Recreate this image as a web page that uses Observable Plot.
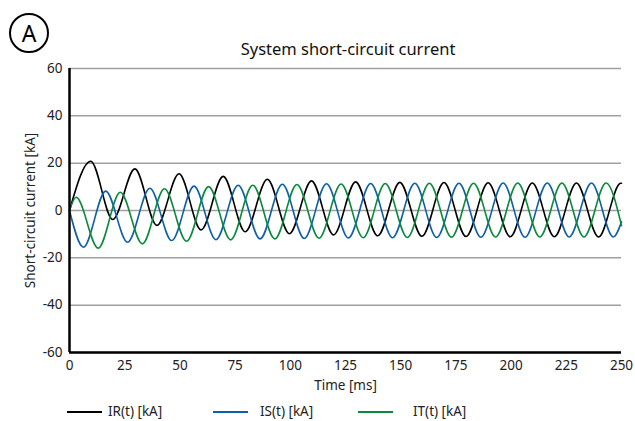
<!DOCTYPE html>
<html>
<head>
<meta charset="utf-8">
<script src="https://cdn.jsdelivr.net/npm/d3@7"></script>
<script src="https://cdn.jsdelivr.net/npm/@observablehq/plot@0.6"></script>
<style>
  body { margin: 0; background: #fff; font-family: "Noto Sans", sans-serif; }
  #wrap { position: relative; width: 635px; height: 421px; }
  #title { position: absolute; left: 0; width: 696px; top: 37px; text-align: center; font-size: 16.5px; color: #111; }
  #badge { position: absolute; left: 9px; top: 13px; width: 36px; height: 36px; border: 2px solid #000; border-radius: 50%;
           font-size: 23px; line-height: 36px; text-align: center; color: #000; }
  #chart { position: absolute; left: 0; top: 0; }
  #legend { position: absolute; left: 0; top: 401px; font-size: 13.5px; color: #222; }
</style>
</head>
<body>
<div id="wrap">
  <div id="chart"></div>
  <div id="badge">A</div>
  <div id="title">System short-circuit current</div>
  <div id="legend"></div>
</div>
<script>
// Series names and colours
const seriesNames = ["IR(t) [kA]", "IS(t) [kA]", "IT(t) [kA]"];
const seriesColors = ["#000000", "#0f5fa8", "#0a8a3c"];

// Axis ticks
const xTicks = [0, 25, 50, 75, 100, 125, 150, 175, 200, 225, 250];
const yTicks = [-60, -40, -20, 0, 20, 40, 60];

const tR = [0, 9.6, 19.6, 29.6, 39.6, 49.6, 59.6, 69.6, 79.6, 89.6, 99.6, 109.6, 119.6, 129.6, 139.6, 149.6,
            159.6, 169.6, 179.6, 189.6, 199.6, 209.6, 219.6, 229.6, 239.6, 249.6, 250];
const vR = [0, 20.8, -3.8, 17.6, -6.3, 15.5, -8.2, 14.4, -9.0, 13.2, -9.8, 12.5, -10.3, 12.1, -10.7, 11.9,
            -10.9, 11.8, -11.0, 11.7, -11.1, 11.6, -11.1, 11.6, -11.2, 11.5, 11.5];

// IS(t)
const tS = [0, 6.3, 16.4, 26.3, 36.4, 46.3, 56.4, 66.3, 76.4, 86.3, 96.4, 106.3, 116.4, 126.3, 136.4, 146.3,
            156.4, 166.3, 176.4, 186.3, 196.4, 206.3, 216.4, 226.3, 236.4, 246.3, 250];
const vS = [0, -15.5, 8.2, -13.4, 9.4, -12.7, 10.3, -12.3, 10.7, -12.0, 11.1, -11.8, 11.3, -11.6, 11.4, -11.5,
            11.5, -11.4, 11.5, -11.3, 11.6, -11.3, 11.6, -11.2, 11.6, -11.2, -4.8];

// IT(t)
const tT = [0, 3.0, 13.0, 23.0, 33.0, 43.0, 53.0, 63.0, 73.0, 83.0, 93.0, 103.0, 113.0, 123.0, 133.0, 143.0,
            153.0, 163.0, 173.0, 183.0, 193.0, 203.0, 213.0, 223.0, 233.0, 243.0, 250];
const vT = [0, 5.6, -15.9, 7.7, -14.1, 9.2, -13.0, 10.1, -12.4, 10.7, -12.0, 11.0, -11.7, 11.2, -11.5, 11.4,
            -11.4, 11.5, -11.3, 11.5, -11.2, 11.6, -11.2, 11.6, -11.2, 11.6, -6.4];

const data = [];
[[tR, vR], [tS, vS], [tT, vT]].forEach(([ts, vs], k) => {
  ts.forEach((t, i) => data.push({series: seriesNames[k], t, v: vs[i]}));
});

const fmt = d => String(d);

const chart = Plot.plot({
  width: 635,
  height: 395,
  marginTop: 68,
  marginBottom: 43,
  marginLeft: 69,
  marginRight: 14,
  style: {fontFamily: "Noto Sans, sans-serif", fontSize: "13px", color: "#222", background: "transparent"},
  x: {domain: [0, 250]},
  y: {domain: [-60, 60]},
  color: {domain: seriesNames, range: seriesColors},
  marks: [
    Plot.gridY(yTicks, {stroke: "#a0a0a0", strokeOpacity: 1, strokeWidth: 1.5}),
    Plot.axisX({ticks: xTicks, tickSize: 0, tickPadding: 8, tickFormat: fmt, label: "Time [ms]",
                labelAnchor: "center", labelArrow: "none", labelOffset: 37, fontSize: 13.5}),
    Plot.axisY({ticks: yTicks, tickSize: 0, tickPadding: 7, tickFormat: fmt, label: "Short-circuit current [kA]",
                labelAnchor: "center", labelArrow: "none", labelOffset: 44, fontSize: 13.5}),
    Plot.line(data, {x: "t", y: "v", z: "series", stroke: "series", curve: "monotone-x", strokeWidth: 1.6}),
    Plot.ruleX([0], {stroke: "#000", strokeWidth: 2.5}),
    Plot.ruleY([-60], {stroke: "#000", strokeWidth: 2.5})
  ]
});
document.getElementById("chart").appendChild(chart);

// Legend
const legendX = [67, 213, 358];
const textX = [108, 260, 413];
const lg = d3.select("#legend").append("svg").attr("width", 635).attr("height", 20);
seriesNames.forEach((name, i) => {
  lg.append("line").attr("x1", legendX[i]).attr("x2", legendX[i] + 35).attr("y1", 11).attr("y2", 11)
    .attr("stroke", seriesColors[i]).attr("stroke-width", 1.8);
  lg.append("text").attr("x", textX[i]).attr("y", 10).attr("dy", "0.35em")
    .attr("font-size", 13.5).attr("font-family", "Noto Sans, sans-serif").attr("fill", "#222").text(name);
});
</script>
</body>
</html>
